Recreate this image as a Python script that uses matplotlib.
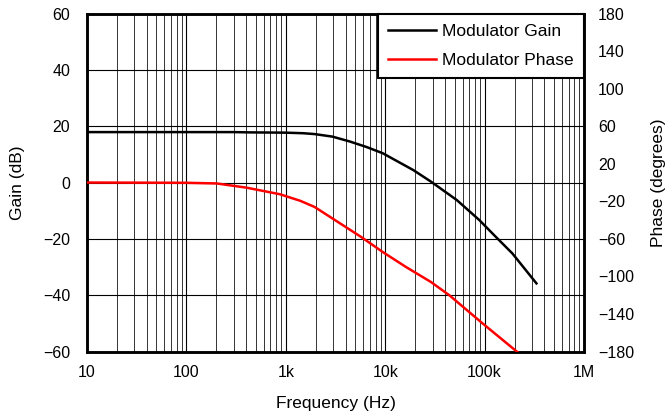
#!/usr/bin/env python3
"""Modulator gain / phase Bode plot."""

import matplotlib
matplotlib.use("Agg")
import matplotlib.pyplot as plt
from matplotlib.ticker import FixedLocator, LogLocator, NullFormatter

# ------------------------------------------------------------------
# Data
# ------------------------------------------------------------------
GAIN_FREQ = [10, 100, 300, 433, 1000, 1500, 1946, 2940, 4370, 6500, 9440,
             19200, 28900, 52400, 88300, 129700, 190500, 332000]
GAIN_DB = [17.9, 17.9, 17.9, 17.8, 17.7, 17.5, 17.2, 16.3, 14.6, 12.6, 10.4,
           4.4, 0.3, -6.2, -13.3, -19.3, -25.2, -35.8]

PHASE_FREQ = [10, 100, 202, 404, 873, 1400, 1946, 2970, 5730, 9440, 16200,
              28900, 44100, 95300, 214000]
PHASE_DEG = [0, -0.3, -1, -5.5, -12.5, -19.5, -26, -38.5, -58, -74, -90,
             -106, -120, -150, -180.6]

X_TICKS = [10, 100, 1e3, 1e4, 1e5, 1e6]
X_LABELS = ["10", "100", "1k", "10k", "100k", "1M"]
GAIN_TICKS = [-60, -40, -20, 0, 20, 40, 60]
PHASE_TICKS = [-180, -140, -100, -60, -20, 20, 60, 100, 140, 180]

INK = "#000000"
GAIN_COLOR = "#000000"
PHASE_COLOR = "#FF0000"

TICK_FS = 11.5
LABEL_FS = 12.5


def fmt(v):
    return f"{v:g}".replace("-", "\u2212")


def main():
    plt.rcParams.update({
        "font.family": ["Liberation Sans", "DejaVu Sans"],
        "font.size": TICK_FS,
        "axes.unicode_minus": True,
    })

    fig = plt.figure(figsize=(6.67, 4.17), dpi=100, facecolor="white")
    ax = fig.add_axes([0.1304, 0.157, 0.7452, 0.8106])
    ax2 = ax.twinx()

    ax.set_xscale("log")
    ax.set_xlim(10, 1e6)
    ax.set_ylim(-60, 60)
    ax2.set_ylim(-180, 180)

    ax.xaxis.set_major_locator(FixedLocator(X_TICKS))
    ax.set_xticklabels(X_LABELS)
    ax.xaxis.set_minor_locator(LogLocator(base=10, subs=range(2, 10)))
    ax.xaxis.set_minor_formatter(NullFormatter())
    ax.set_yticks(GAIN_TICKS)
    ax.set_yticklabels([fmt(v) for v in GAIN_TICKS])
    ax2.set_yticks(PHASE_TICKS)
    ax2.set_yticklabels([fmt(v) for v in PHASE_TICKS])

    ax.grid(which="major", axis="both", color=INK, lw=0.8)
    ax.grid(which="minor", axis="x", color="#333333", lw=0.7)

    ax.tick_params(axis="y", which="both", length=0, pad=12,
                   labelsize=TICK_FS, colors=INK)
    ax.tick_params(axis="x", which="both", length=0, pad=10,
                   labelsize=TICK_FS, colors=INK)
    ax2.tick_params(which="both", length=0, pad=10,
                    labelsize=TICK_FS, colors=INK)

    for a in (ax, ax2):
        for s in a.spines.values():
            s.set_linewidth(1.8)
            s.set_color(INK)

    g, = ax.plot(GAIN_FREQ, GAIN_DB, color=GAIN_COLOR, lw=1.8,
                 label="Modulator Gain", zorder=3)
    p, = ax2.plot(PHASE_FREQ, PHASE_DEG, color=PHASE_COLOR, lw=1.8,
                  label="Modulator Phase", zorder=3)

    ax.set_xlabel("Frequency (Hz)", fontsize=LABEL_FS, labelpad=11)
    ax.set_ylabel("Gain (dB)", fontsize=LABEL_FS, labelpad=13)
    ax2.set_ylabel("Phase (degrees)", fontsize=LABEL_FS, labelpad=12)

    leg = ax2.legend(handles=[g, p], loc="upper right", fontsize=LABEL_FS,
                     frameon=True, fancybox=False, framealpha=1,
                     edgecolor=INK, borderaxespad=0, handlelength=2.8,
                     handletextpad=0.35, labelspacing=0.8, borderpad=0.58)
    leg.get_frame().set_linewidth(1.5)

    fig.savefig("out.png", dpi=100, facecolor="white")


if __name__ == "__main__":
    main()
